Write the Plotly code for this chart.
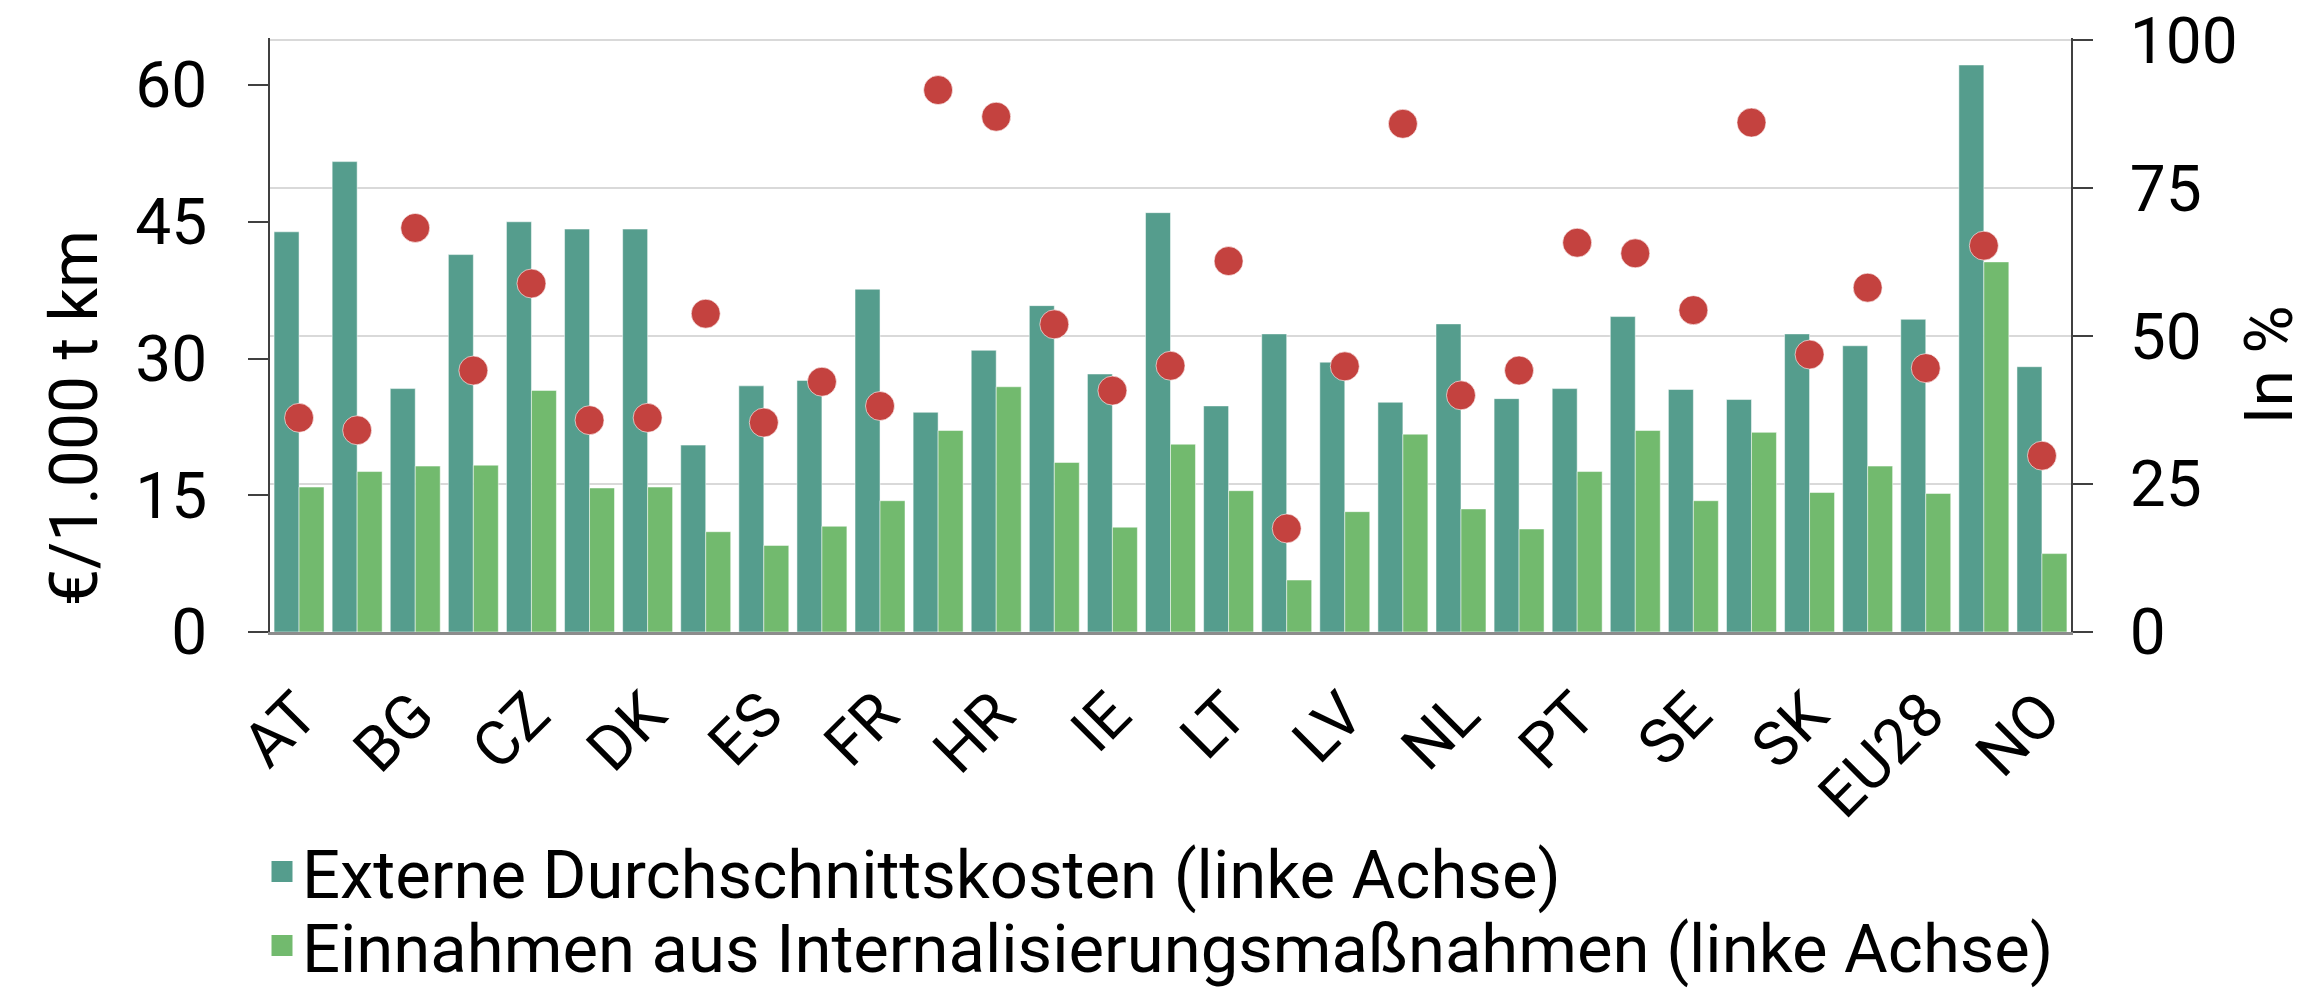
import plotly.graph_objects as go

categories = ["AT", "BE", "BG", "CY", "CZ", "DE", "DK", "EE", "ES", "FI", "FR", "GR", "HR", "HU", "IE",
              "IT", "LT", "LU", "LV", "MT", "NL", "PL", "PT", "RO", "SE", "SI", "SK", "UK", "EU28", "CH", "NO"]
external_costs = [43.9, 51.6, 26.7, 41.4, 45.0, 44.2, 44.2, 20.5, 27.0, 27.6, 37.6, 24.1, 30.9, 35.8, 28.3,
                  46.0, 24.8, 32.7, 29.6, 25.2, 33.8, 25.6, 26.7, 34.6, 26.6, 25.5, 32.7, 31.4, 34.3, 62.2, 29.1]
revenues = [15.9, 17.6, 18.2, 18.3, 26.5, 15.8, 15.9, 11.0, 9.5, 11.6, 14.4, 22.1, 26.9, 18.6, 11.5,
            20.6, 15.5, 5.7, 13.2, 21.7, 13.5, 11.3, 17.6, 22.1, 14.4, 21.9, 15.3, 18.2, 15.2, 40.6, 8.6]
share_pct = [36.2, 34.1, 68.3, 44.2, 58.9, 35.8, 36.2, 53.8, 35.4, 42.3, 38.2, 91.6, 87.1, 52.0, 40.8,
             45.0, 62.7, 17.5, 44.9, 85.9, 40.0, 44.2, 65.8, 64.0, 54.4, 86.1, 46.9, 58.2, 44.6, 65.3, 29.8]
tick_labels = categories[::2]
left_ticks = [0, 15, 30, 45, 60]
right_ticks = [0, 25, 50, 75, 100]
series_names = ["Externe Durchschnittskosten (linke Achse)",
                "Einnahmen aus Internalisierungsmaßnahmen (linke Achse)"]

FONT = "Roboto"
FS_TICK = 64
FS_XTICK = 62
FS_TEXT = 67
FS_TITLE = 66
DARK = "#559D8D"
LIGHT = "#72BA6E"
RED = "#C4423F"

# figure is displayed with the page's 8px body margin, so plot area is placed 8px up/left
W, H = 2303, 992
L, R, T, B = 262, 240, 30, 368
pw, ph = W - L - R, H - T - B
plot_bottom = H - B
TOP_PAD = 1.004  # small headroom so the 100 % gridline is drawn at the top


def fx(px):
    return (px - L) / pw


def fy(py):
    return (plot_bottom - py) / ph


fig = go.Figure()
fig.add_trace(go.Bar(x=categories, y=external_costs, name=series_names[0], showlegend=False,
                     legendgroup="g1",
                     marker=dict(color=DARK, line=dict(color="rgba(255,255,255,0.5)", width=1))))
fig.add_trace(go.Bar(x=categories, y=revenues, name=series_names[1], showlegend=False,
                     legendgroup="g2",
                     marker=dict(color=LIGHT, line=dict(color="rgba(255,255,255,0.5)", width=1))))
fig.add_trace(go.Scatter(x=categories, y=share_pct, yaxis="y2", mode="markers", showlegend=False,
                         marker=dict(color=RED, size=29, line=dict(color="rgba(255,255,255,0.6)", width=1))))
# legend entries (square swatches)
fig.add_trace(go.Scatter(x=[None], y=[None], mode="markers", name=series_names[0], legendgroup="g1",
                         legend="legend", showlegend=True,
                         marker=dict(symbol="square", color=DARK, size=16, line=dict(color=DARK, width=5))))
fig.add_trace(go.Scatter(x=[None], y=[None], mode="markers", name=series_names[1], legendgroup="g2",
                         legend="legend2", showlegend=True,
                         marker=dict(symbol="square", color=LIGHT, size=16, line=dict(color=LIGHT, width=5))))

leg_common = dict(xanchor="left", yanchor="middle", bgcolor="rgba(0,0,0,0)",
                  font=dict(family=FONT, size=FS_TEXT, color="black"), itemsizing="trace")

fig.update_layout(
    width=W, height=H,
    margin=dict(l=L, r=R, t=T, b=B, autoexpand=False),
    paper_bgcolor="white", plot_bgcolor="white",
    font=dict(family=FONT, size=FS_TICK, color="black"),
    barmode="group", bargap=0.14, bargroupgap=0,
    showlegend=True,
    legend=dict(x=fx(254), y=fy(864), **leg_common),
    legend2=dict(x=fx(254), y=fy(938), **leg_common),
    xaxis=dict(type="category", range=[-0.5, len(categories) - 0.5], tickmode="array",
               tickvals=tick_labels, ticktext=tick_labels,
               tickangle=-45, showline=True, linecolor="#8C8C8C", linewidth=3, ticks="",
               showgrid=False, tickfont=dict(family=FONT, size=FS_XTICK), ticklabelstandoff=18),
    yaxis=dict(range=[0, 64.9 * TOP_PAD], tickvals=left_ticks, showgrid=False, zeroline=False,
               showline=True, linecolor="#404040", linewidth=2, ticks="outside", ticklen=20,
               tickwidth=2, tickcolor="#404040", tickfont=dict(family=FONT, size=FS_TICK),
               ticklabelstandoff=28, ticklabeloverflow="allow"),
    yaxis2=dict(range=[0, 100 * TOP_PAD], tickvals=right_ticks, overlaying="y", side="right",
                showgrid=True, gridcolor="#D9D9D9", gridwidth=2, zeroline=False,
                showline=True, linecolor="#404040", linewidth=2, ticks="outside", ticklen=20,
                tickwidth=2, tickcolor="#404040", tickfont=dict(family=FONT, size=FS_TICK),
                ticklabelstandoff=24, ticklabeloverflow="allow"),
    annotations=[
        dict(text="€/1.000 t km", textangle=-90, xref="paper", yref="paper",
             x=fx(66), y=fy(410), xanchor="center", yanchor="middle",
             showarrow=False, font=dict(family=FONT, size=FS_TITLE)),
        dict(text="In %", textangle=-90, xref="paper", yref="paper",
             x=fx(2220), y=fy(357), xanchor="left", yanchor="middle",
             showarrow=False, font=dict(family=FONT, size=FS_TITLE)),
    ],
)

fig.write_html("out.html")
